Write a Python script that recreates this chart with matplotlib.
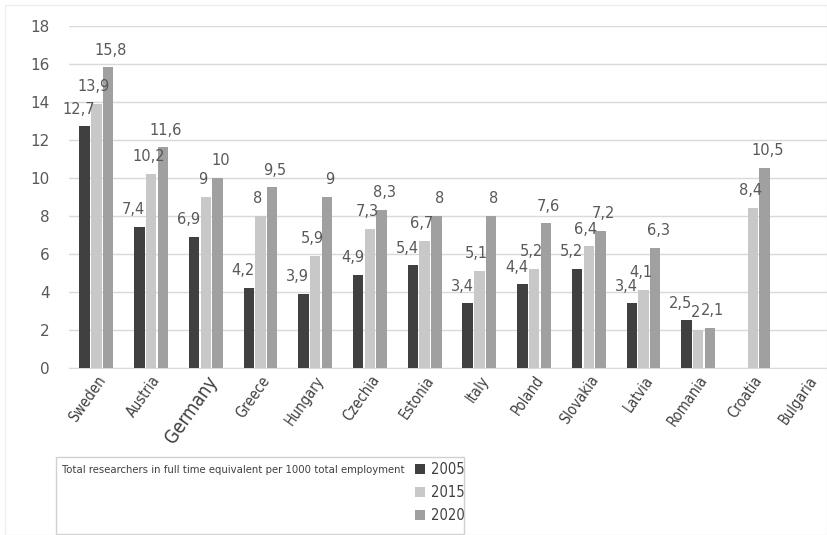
import numpy as np
import matplotlib.pyplot as plt
from matplotlib import font_manager
from matplotlib.patches import Rectangle

countries = ['Sweden', 'Austria', 'Germany', 'Greece', 'Hungary', 'Czechia', 'Estonia',
             'Italy', 'Poland', 'Slovakia', 'Latvia', 'Romania', 'Croatia', 'Bulgaria']
v2005 = [12.7, 7.4, 6.9, 4.2, 3.9, 4.9, 5.4, 3.4, 4.4, 5.2, 3.4, 2.5, np.nan, np.nan]
v2015 = [13.9, 10.2, 9, 8, 5.9, 7.3, 6.7, 5.1, 5.2, 6.4, 4.1, 2, 8.4, np.nan]
v2020 = [15.8, 11.6, 10, 9.5, 9, 8.3, 8, 8, 7.6, 7.2, 6.3, 2.1, 10.5, np.nan]
years = ['2005', '2015', '2020']
colors = ['#404040', '#c8c8c8', '#a0a0a0']

# pick a narrow font if one is installed
names = {f.name: f for f in font_manager.fontManager.ttflist}
cond_dejavu = [f for f in font_manager.fontManager.ttflist
               if f.name == 'DejaVu Sans' and 'ondensed' in f.fname and 'Bold' not in f.fname
               and 'Oblique' not in f.fname]
if 'Liberation Sans Narrow' in names:
    narrow = {'family': 'Liberation Sans Narrow', 'stretch': 'normal'}
    nsize, tsize = 12, 9.5
elif cond_dejavu:
    narrow = {'family': 'DejaVu Sans', 'stretch': 'condensed'}
    nsize, tsize = 10.5, 8.1
else:
    narrow = {'family': 'Roboto', 'stretch': 'normal'}
    nsize, tsize = 9.5, 7.5

W, H = 828, 535
fig = plt.figure(figsize=(W / 100, H / 100), dpi=100)
ax = fig.add_axes([69 / W, 1 - 368 / H, (835 - 69) / W, (368 - 25.5) / H])

x = np.arange(len(countries))
bw = 0.19
step = 0.215
series = [v2005, v2015, v2020]
for i, (vals, c, yr) in enumerate(zip(series, colors, years)):
    pos = x + (i - 1) * step
    ax.bar(pos, vals, width=bw, color=c, label=yr, zorder=3)
    for p, v in zip(pos, vals):
        if np.isnan(v):
            continue
        s = ('%g' % v).replace('.', ',')
        ax.annotate(s, (p, v), xytext=(-4 if i == 0 else (-2 if i == 1 else 2), 7),
                    textcoords='offset points', ha='center', va='bottom',
                    fontsize=10.5, color='#595959', family='DejaVu Sans', zorder=4)

ax.set_xlim(-0.5, 13.5)
ax.set_ylim(0, 18)
ax.set_yticks(range(0, 19, 2))
ax.grid(axis='y', color='#d9d9d9', lw=1, zorder=0)
for s in ['top', 'right', 'left']:
    ax.spines[s].set_visible(False)
ax.spines['bottom'].set_color('#d9d9d9')
ax.tick_params(axis='both', length=0)
ax.tick_params(axis='y', labelsize=11, colors='#595959', pad=14)
ax.set_xticks(x)
ax.set_xticklabels(countries, rotation=55, ha='right', rotation_mode='anchor',
                   fontsize=nsize, color='#404040', family=narrow['family'],
                   fontstretch=narrow['stretch'])
ax.get_xticklabels()[2].set_fontsize(nsize + 3)

# legend box
fig.patches.append(Rectangle((56 / W, 1 - 534 / H), (464 - 56) / W, (534 - 457) / H,
                             transform=fig.transFigure, fill=False, ec='#d0d0d0', lw=1))
fig.text(62 / W, 1 - 470 / H, 'Total researchers in full time equivalent per 1000 total employment',
         ha='left', va='center', fontsize=tsize, color='#404040', family=narrow['family'],
         fontstretch=narrow['stretch'])
fig.legend(loc='upper left', bbox_to_anchor=(412 / W, 1 - 459 / H), frameon=False,
           handlelength=0.7, handleheight=0.7, handletextpad=0.4, labelspacing=0.55,
           borderaxespad=0, borderpad=0.2,
           prop={'family': narrow['family'], 'stretch': narrow['stretch'], 'size': nsize},
           labelcolor='#404040')

fig.patches.append(Rectangle((5 / W, 0), (W - 6) / W, 1 - 5 / H, transform=fig.transFigure,
                             fill=False, ec='#eeeeee', lw=1))
fig.savefig('out.png', dpi=100)
